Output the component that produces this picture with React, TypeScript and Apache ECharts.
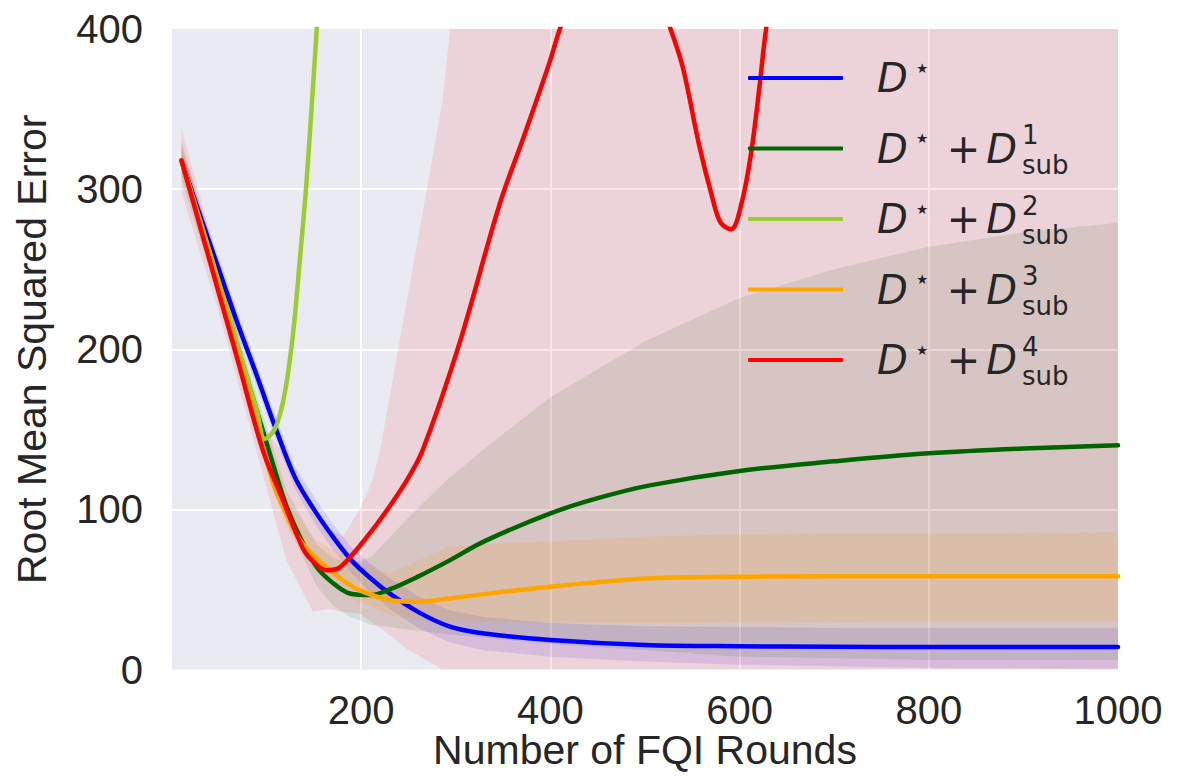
import React, { useEffect, useRef } from 'react';
import * as echarts from 'echarts';

// ---- line data (x = FQI round, y = RMSE) ----
const blueX = [10, 30, 50, 70, 90, 110, 130, 150, 170, 190, 210, 230, 260, 293, 330, 400, 500, 600, 700, 800, 1000];
const blueY = [318, 283, 249, 215, 183, 150, 120, 100, 83, 68, 57, 47.5, 36, 27, 22.5, 18.4, 15.3, 14.5, 14.2, 14, 14];

const greenX = [10, 30, 50, 70, 90, 110, 121, 135, 153, 170, 188, 210, 230, 260, 293, 330, 400, 450, 505, 600, 700, 800, 900, 1000];
const greenY = [318, 279, 240, 200, 161, 122, 102, 83, 64, 54, 47.5, 46.5, 50, 58, 68, 80, 97.5, 107, 115, 124, 130, 135, 138, 140];

const lgreenX = [10, 30, 50, 70, 90, 98, 109, 119, 128, 135, 142, 148, 153, 160, 170];
const lgreenY = [318, 280, 241, 201, 161, 144, 150.5, 172, 210, 255, 303, 355, 400, 470, 570];

const orangeX = [10, 30, 50, 70, 90, 107, 120, 135, 150, 163, 180, 198, 230, 258, 293, 350, 399, 450, 505, 600, 800, 1000];
const orangeY = [318, 278, 238, 196, 152, 116, 98, 81, 71, 64, 56, 49.6, 43.4, 42.3, 44.4, 48.5, 51.7, 54.5, 57, 58, 58.3, 58.3];

const redX = [10, 30, 50, 70, 96, 117, 139, 150, 163, 175, 188, 205, 223, 248, 265, 304, 346, 372, 399, 410, 430, 460, 490, 515, 527, 540, 557, 571, 580, 591, 602, 612, 621, 628, 650, 700, 800, 900, 1000];
const redY = [318, 276, 234, 192, 137, 106, 75, 67, 62, 63, 70, 82, 96, 118, 137, 204, 290, 333, 379, 400, 430, 455, 450, 420, 400, 376, 328, 295, 279, 275, 291, 322, 364, 400, 480, 650, 950, 1250, 1550];

// ---- confidence bands ----
const blueBandX = [10, 30, 50, 70, 90, 110, 130, 150, 170, 190, 210, 230, 260, 293, 330, 400, 500, 600, 700, 800, 1000];
const blueLo = [310, 276, 242, 208, 176, 143, 113, 92, 75, 60, 48, 38, 26, 17, 12, 8, 5, 3, 2, 1, 0.5];
const blueHi = [326, 290, 256, 222, 190, 157, 127, 108, 91, 76, 66, 57, 46, 37, 33, 29, 27, 26.5, 26, 26, 26];

const greenBandX = [10, 50, 90, 121, 153, 170, 188, 210, 250, 290, 328, 400, 500, 600, 700, 800, 900, 1000];
const greenLo = [306, 230, 150, 92, 52, 40, 33, 28, 25, 22, 20, 16, 12, 8, 7, 6, 6, 6];
const greenHi = [330, 250, 170, 112, 78, 70, 66, 70, 95, 118, 137, 170, 205, 232, 250, 264, 273, 279];

const orangeBandX = [10, 50, 90, 120, 150, 188, 230, 260, 293, 350, 400, 505, 600, 800, 1000];
const orangeLo = [308, 230, 144, 90, 62, 45, 34, 31, 30, 30, 29.5, 29, 29.5, 30, 30];
const orangeHi = [328, 246, 160, 106, 82, 68, 60, 68, 76.6, 79, 80, 83, 84.5, 85, 85.5];

const redBandX = [10, 50, 96, 121, 149, 165, 181, 198, 212, 220, 250, 286, 294, 320, 400, 600, 1000];
const redLo = [298, 222, 122, 68, 36, 38, 36, 35, 29, 26, 12, 0, 0, 0, 0, 0, 0];
const redHi = [338, 252, 152, 132, 100, 88, 83, 100, 118, 137, 236, 355, 400, 480, 700, 1000, 1400];

const seriesNames = ['D⋆', 'D⋆ + D¹sub', 'D⋆ + D²sub', 'D⋆ + D³sub', 'D⋆ + D⁴sub'];
const seriesSup = ['', '1', '2', '3', '4'];
const seriesColors = ['#0000ff', '#006400', '#9acd32', '#ffa500', '#ff0000'];

const pairs = (xs: number[], ys: number[]) => xs.map((x, i) => [x, ys[i]]);

function bandSeries(id: string, xs: number[], lo: number[], hi: number[], fill: string) {
  return {
    type: 'custom',
    id,
    name: id,
    clip: true,
    silent: true,
    z: 1,
    data: [[xs[0], lo[0]]],
    encode: { x: 0, y: 1 },
    renderItem: (params: any, api: any) => {
      const pts: number[][] = [];
      for (let i = 0; i < xs.length; i++) pts.push(api.coord([xs[i], hi[i]]));
      for (let i = xs.length - 1; i >= 0; i--) pts.push(api.coord([xs[i], lo[i]]));
      const cs = params.coordSys;
      return {
        type: 'group',
        clipPath: { type: 'rect', shape: { x: cs.x, y: cs.y, width: cs.width, height: cs.height } },
        children: [{ type: 'polygon', shape: { points: pts }, style: { fill, stroke: null }, silent: true }],
      };
    },
  };
}

function lineSeries(i: number, xs: number[], ys: number[]) {
  return {
    type: 'line',
    name: seriesNames[i],
    data: pairs(xs, ys),
    symbol: 'none',
    smooth: 0.35,
    clip: true,
    z: 3,
    color: seriesColors[i],
    lineStyle: { color: seriesColors[i], width: 4.5, cap: 'round', join: 'round' },
  };
}

export default function App() {
  const ref = useRef<HTMLDivElement>(null);
  useEffect(() => {
    if (!ref.current) return;
    const chart = echarts.init(ref.current, null, { renderer: 'svg' });
    const axisFont = 'Liberation Sans, Arial, sans-serif';
    const textColor = '#262626';
    const option: any = {
      animation: false,
      grid: {
        left: 172, right: 61, top: 29, bottom: 106.5,
        outerBoundsMode: 'none',
        containLabel: false,
        show: true, backgroundColor: '#EAEAF2', borderWidth: 0,
      },
      xAxis: {
        type: 'value', min: 0, max: 1000, interval: 200,
        name: 'Number of FQI Rounds', nameLocation: 'middle', nameGap: 60,
        nameMoveOverlap: false,
        nameTextStyle: { fontSize: 41, lineHeight: 41, color: textColor, fontFamily: axisFont },
        axisLine: { show: false }, axisTick: { show: false },
        axisLabel: {
          fontSize: 40, lineHeight: 34, color: textColor, fontFamily: axisFont, margin: 23,
          formatter: (v: number) => (v === 0 ? '' : String(v)),
        },
        splitLine: { show: true, showMinLine: false, showMaxLine: false, lineStyle: { color: '#ffffff', width: 2 } },
      },
      yAxis: {
        type: 'value', min: 0, max: 400, interval: 100,
        name: 'Root Mean Squared Error', nameLocation: 'middle', nameGap: 120,
        nameMoveOverlap: false,
        nameTextStyle: { fontSize: 41, color: textColor, fontFamily: axisFont },
        axisLine: { show: false }, axisTick: { show: false },
        axisLabel: { fontSize: 40, color: textColor, fontFamily: axisFont, margin: 29 },
        splitLine: { show: true, showMinLine: false, showMaxLine: false, lineStyle: { color: '#ffffff', width: 2 } },
      },
      legend: {
        data: seriesNames.map((n) => ({ name: n, icon: 'roundRect' })),
        orient: 'vertical',
        left: 748, top: 47,
        padding: 0,
        itemGap: 8.5,
        itemWidth: 95,
        itemHeight: 4,
        selectedMode: false,
        formatter: (name: string) => {
          const i = seriesNames.indexOf(name);
          if (i <= 0) return '{d0|D}{st|⋆}';
          return '{d0|D}{st|⋆}{pl|+}{d|D}{sup|' + seriesSup[i] + '}{sb|sub}';
        },
        textStyle: {
          color: textColor, fontFamily: 'DejaVu Sans', fontSize: 40, lineHeight: 62,
          rich: {
            d0: { fontFamily: 'DejaVu Sans', fontStyle: 'italic', fontSize: 40, color: textColor, padding: [0, 0, 0, 29] },
            d: { fontFamily: 'DejaVu Sans', fontStyle: 'italic', fontSize: 40, color: textColor },
            st: { fontFamily: 'DejaVu Sans', fontSize: 27, color: textColor, padding: [0, 0, 22, 6] },
            pl: { fontFamily: 'DejaVu Sans', fontSize: 40, color: textColor, padding: [0, 6, 0, 16] },
            sup: { fontFamily: 'DejaVu Sans', fontSize: 26, color: textColor, width: 0, padding: [0, 0, 27, 5] },
            sb: { fontFamily: 'DejaVu Sans', fontSize: 26, color: textColor, padding: [32, 0, 0, 0] },
          },
        },
      },
      series: [
        bandSeries('band-blue', blueBandX, blueLo, blueHi, 'rgba(0,0,255,0.10)'),
        bandSeries('band-green', greenBandX, greenLo, greenHi, 'rgba(0,100,0,0.10)'),
        bandSeries('band-orange', orangeBandX, orangeLo, orangeHi, 'rgba(255,165,0,0.13)'),
        bandSeries('band-red', redBandX, redLo, redHi, 'rgba(255,0,0,0.10)'),
        lineSeries(0, blueX, blueY),
        lineSeries(1, greenX, greenY),
        lineSeries(2, lgreenX, lgreenY),
        lineSeries(3, orangeX, orangeY),
        lineSeries(4, redX, redY),
      ],
    };
    chart.setOption(option);
    return () => chart.dispose();
  }, []);
  return <div ref={ref} style={{ position: 'absolute', left: 0, top: 0, width: 1179, height: 776 }} />;
}
